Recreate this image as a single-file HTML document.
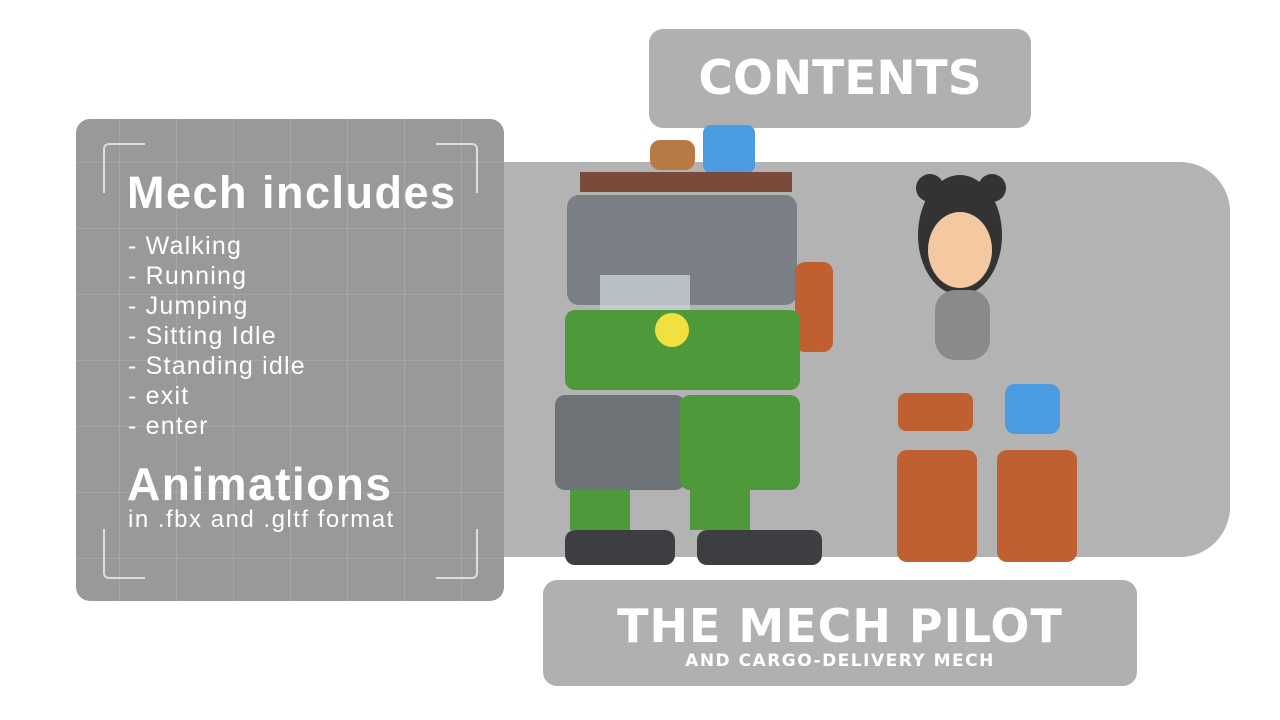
<!DOCTYPE html>
<html><head><style>
body{margin:0;width:1280px;height:720px;background:#fff;position:relative;overflow:hidden;font-family:"Liberation Sans",sans-serif}
.a{position:absolute}
.t{color:#fff;font-weight:bold}
</style></head><body>
<div class="a" style="left:649px;top:29px;width:382px;height:99px;background:#b0b0b0;border-radius:14px"></div>
<div class="a t" style="left:649px;top:49px;width:382px;text-align:center;font-size:47px;letter-spacing:0px;font-family:'DejaVu Sans',sans-serif;line-height:60px">CONTENTS</div>
<div class="a" style="left:470px;top:162px;width:760px;height:395px;background:#b3b3b3;border-radius:0 50px 50px 0"></div>
<div class="a" style="left:76px;top:119px;width:428px;height:482px;background:#999;border-radius:14px;overflow:hidden;
background-image:linear-gradient(90deg,rgba(255,255,255,.12) 1px,transparent 1px),linear-gradient(rgba(255,255,255,.12) 1px,transparent 1px);background-size:57px 66px;background-position:43px 43px"></div>
<div class="a" style="left:103px;top:143px;width:40px;height:48px;border-left:2px solid #ddd;border-top:2px solid #ddd;border-radius:6px 0 0 0"></div>
<div class="a" style="left:436px;top:143px;width:40px;height:48px;border-right:2px solid #ddd;border-top:2px solid #ddd;border-radius:0 6px 0 0"></div>
<div class="a" style="left:103px;top:529px;width:40px;height:48px;border-left:2px solid #ddd;border-bottom:2px solid #ddd;border-radius:0 0 0 6px"></div>
<div class="a" style="left:436px;top:529px;width:40px;height:48px;border-right:2px solid #ddd;border-bottom:2px solid #ddd;border-radius:0 0 6px 0"></div>
<div class="a t" style="left:127px;top:166px;font-size:45px;letter-spacing:1.5px;line-height:54px">Mech includes</div>
<div class="a" style="left:128px;top:231px;font-size:25px;letter-spacing:1.2px;line-height:30px;color:#fff">- Walking<br>- Running<br>- Jumping<br>- Sitting Idle<br>- Standing idle<br>- exit<br>- enter</div>
<div class="a t" style="left:127px;top:457px;font-size:46px;letter-spacing:1.5px;line-height:54px">Animations</div>
<div class="a" style="left:128px;top:506px;font-size:24px;letter-spacing:1.5px;line-height:28px;color:#fff">in .fbx and .gltf format</div>
<div class="a" style="left:543px;top:580px;width:594px;height:106px;background:#b0b0b0;border-radius:14px"></div>
<div class="a t" style="left:543px;top:598px;width:594px;text-align:center;font-size:46px;line-height:56px;letter-spacing:1px;font-family:'DejaVu Sans',sans-serif">THE MECH PILOT</div>
<div class="a t" style="left:543px;top:651px;width:594px;text-align:center;font-size:17px;letter-spacing:1.5px;font-family:'DejaVu Sans',sans-serif">AND CARGO-DELIVERY MECH</div>
<svg class="a" style="left:0;top:0" width="1280" height="720">
<rect x="650" y="140" width="45" height="30" rx="10" fill="#b87a45"/><rect x="703" y="125" width="52" height="48" rx="8" fill="#4a9be0"/>
<rect x="580" y="172" width="212" height="20" fill="#7a4a3a"/>
<rect x="567" y="195" width="230" height="110" rx="12" fill="#7b8087"/>
<rect x="600" y="275" width="90" height="70" fill="#c9d0d4" opacity=".8"/>
<rect x="795" y="262" width="38" height="90" rx="10" fill="#c06030"/>
<rect x="565" y="310" width="235" height="80" rx="10" fill="#4e9a3a"/>
<rect x="555" y="395" width="130" height="95" rx="10" fill="#6e7378"/><rect x="680" y="395" width="120" height="95" rx="10" fill="#4e9a3a"/>
<rect x="570" y="490" width="60" height="40" fill="#4e9a3a"/><rect x="690" y="490" width="60" height="40" fill="#4e9a3a"/>
<rect x="565" y="530" width="110" height="35" rx="10" fill="#3e3e42"/><rect x="697" y="530" width="125" height="35" rx="10" fill="#3e3e42"/>
<circle cx="672" cy="330" r="17" fill="#f0e040"/>
<ellipse cx="960" cy="235" rx="42" ry="60" fill="#333"/><ellipse cx="960" cy="250" rx="32" ry="38" fill="#f4c8a0"/>
<circle cx="930" cy="188" r="14" fill="#333"/><circle cx="992" cy="188" r="14" fill="#333"/>
<rect x="935" y="290" width="55" height="70" rx="20" fill="#8a8a88"/>
<rect x="898" y="393" width="75" height="38" rx="8" fill="#c06030"/><rect x="1005" y="384" width="55" height="50" rx="10" fill="#4a9be0"/>
<rect x="897" y="450" width="80" height="112" rx="10" fill="#c06030"/><rect x="997" y="450" width="80" height="112" rx="10" fill="#c06030"/>
</svg>
</body></html>
